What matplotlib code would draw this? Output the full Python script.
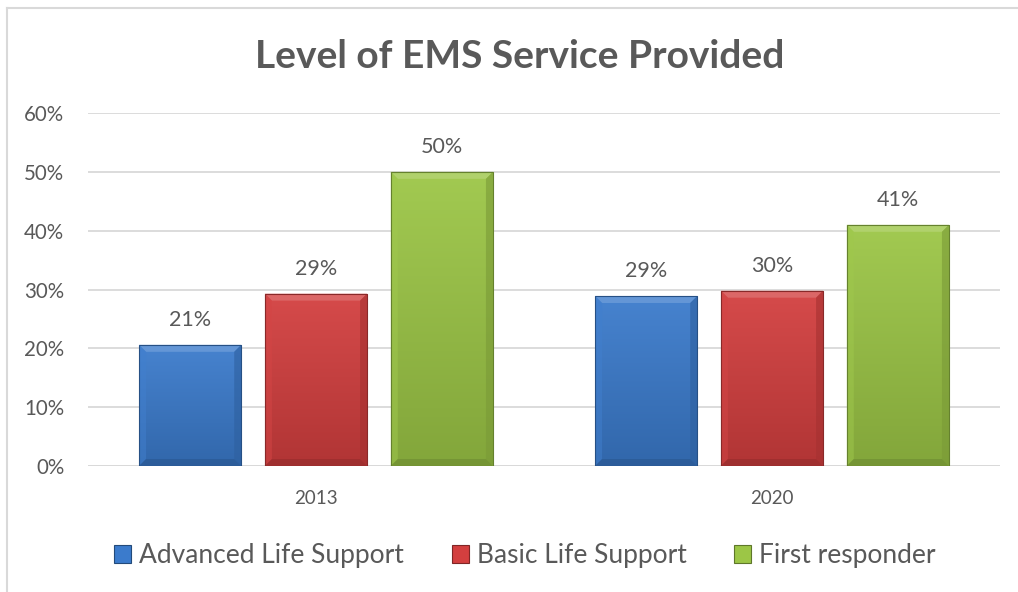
import numpy as np
import matplotlib.pyplot as plt
from matplotlib.patches import Polygon, Rectangle
from matplotlib.lines import Line2D
from matplotlib.colors import to_rgb

years = ["2013", "2020"]
series = ["Advanced Life Support", "Basic Life Support", "First responder"]
als = [0.206, 0.289]
bls = [0.293, 0.298]
first_resp = [0.500, 0.410]
yticks = [0.0, 0.1, 0.2, 0.3, 0.4, 0.5, 0.6]

colors = ["#3b7bcc", "#d33f3f", "#9cc646"]
text_gray = "#595959"

plt.rcParams['font.family'] = ['Lato', 'DejaVu Sans']

W, H = 1018, 592
fig = plt.figure(figsize=(W / 100, H / 100), dpi=100)
ax_l, ax_r, ax_t, ax_b = 88, 1000, 113, 466
ax = fig.add_axes([ax_l / W, 1 - ax_b / H, (ax_r - ax_l) / W, (ax_b - ax_t) / H])
ax.set_xlim(-0.5, 1.5)
ax.set_ylim(0, 0.6)

# pixel -> data scale, axes is placed by hand so this stays fixed
px_x = 2.0 / (ax_r - ax_l)
px_y = 0.6 / (ax_b - ax_t)


def shade(c, f):
    r, g, b = to_rgb(c)
    if f >= 0:
        return (r + (1 - r) * f, g + (1 - g) * f, b + (1 - b) * f)
    return (r * (1 + f), g * (1 + f), b * (1 + f))


def bevel_bar(x0, w, h, c, bev=7):
    # vertical gradient body, lighter at the top
    grad = np.linspace(0, 1, 64)[:, None]
    top, bot = np.array(shade(c, 0.06)), np.array(shade(c, -0.16))
    img = top * (1 - grad[..., None]) + bot * grad[..., None]
    body = Rectangle((x0, 0), w, h, facecolor="none", edgecolor="none")
    ax.add_patch(body)
    im = ax.imshow(img, extent=(x0, x0 + w, 0, h), origin="upper",
                   aspect="auto", interpolation="bilinear", zorder=2)
    im.set_clip_path(body)
    bx, by = bev * px_x, bev * px_y
    bx = min(bx, w / 2)
    by = min(by, h / 2)
    x1 = x0 + w
    faces = [
        ([(x0, h), (x1, h), (x1 - bx, h - by), (x0 + bx, h - by)], shade(c, 0.25), 0.8),
        ([(x0, 0), (x0, h), (x0 + bx, h - by), (x0 + bx, by)], shade(c, 0.03), 0.5),
        ([(x1, 0), (x1, h), (x1 - bx, h - by), (x1 - bx, by)], shade(c, -0.22), 0.6),
        ([(x0, 0), (x1, 0), (x1 - bx, by), (x0 + bx, by)], shade(c, -0.3), 0.6),
    ]
    for pts, fc, a in faces:
        ax.add_patch(Polygon(pts, closed=True, facecolor=fc, edgecolor="none",
                             alpha=a, zorder=3))
    ax.add_patch(Rectangle((x0, 0), w, h, facecolor="none",
                           edgecolor=shade(c, -0.35), lw=0.8, zorder=4))


bar_w = 0.224
step = 0.276
x = np.arange(len(years))
for i, (vals, c) in enumerate(zip([als, bls, first_resp], colors)):
    for xi, v in zip(x, vals):
        xc = xi + (i - 1) * step
        bevel_bar(xc - bar_w / 2, bar_w, v, c)
        ax.text(xc, v + 0.025, f"{v:.0%}", ha="center", va="bottom",
                fontsize=15.5, color=text_gray)

ax.set_yticks(yticks)
ax.set_yticklabels([f"{t:.0%}" for t in yticks], fontsize=14.8, color=text_gray)
ax.set_xticks(x)
ax.set_xticklabels(years, fontsize=13.5, color=text_gray)
ax.tick_params(axis="x", length=0, pad=17)
ax.tick_params(axis="y", length=0, pad=17)
ax.grid(axis="y", color="#d9d9d9", lw=1.3, zorder=0)
ax.set_axisbelow(True)
for s in ax.spines.values():
    s.set_visible(False)
ax.axhline(0, color="#d9d9d9", lw=1.3, zorder=1)

fig.text(520 / W, 1 - 56 / H, "Level of EMS Service Provided", ha="center",
         va="center", fontsize=28, fontweight="bold", color=text_gray)

handles = [Rectangle((0, 0), 1, 1, facecolor=c, edgecolor=shade(c, -0.4), lw=0.8)
           for c in colors]
fig.legend(handles, series, loc="center", bbox_to_anchor=(525 / W, 1 - 556 / H),
           ncol=3, frameon=False, fontsize=19, handlelength=0.65,
           handleheight=0.65, handletextpad=0.3, columnspacing=1.8,
           labelcolor=text_gray)

# chart area border (left and top edges only are visible)
fig.add_artist(Line2D([7 / W, 7 / W], [0, 1 - 8 / H], color="#d9d9d9", lw=1.5))
fig.add_artist(Line2D([7 / W, 1], [1 - 8 / H, 1 - 8 / H], color="#d9d9d9", lw=1.5))

fig.savefig("out.png", dpi=100, facecolor="white")
